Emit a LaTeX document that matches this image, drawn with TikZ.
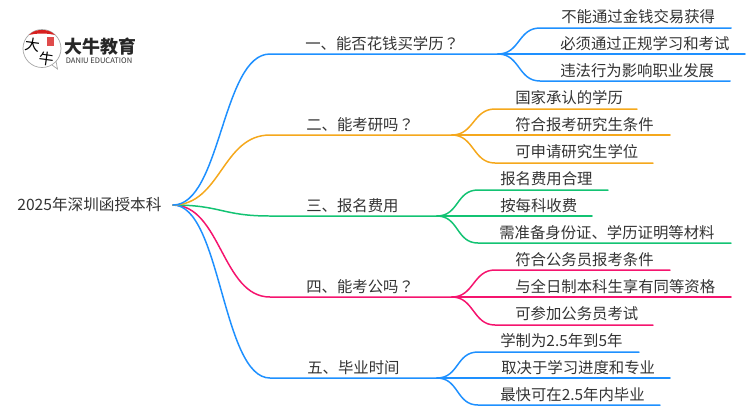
\documentclass[tikz,border=0pt]{standalone}
\usepackage{fontspec}
\setmainfont{Noto Sans CJK SC}
\newfontfamily\cjktc{Noto Sans CJK TC}
\definecolor{mapblue}{HTML}{1E90FF}
\definecolor{maporange}{HTML}{F5A81C}
\definecolor{mapgreen}{HTML}{13C373}
\definecolor{mappink}{HTML}{F5146E}
\definecolor{maptext}{HTML}{333333}
\definecolor{logored}{HTML}{D7201F}
\newcommand{\qmark}{{\cjktc ？}}
\tikzset{
  maptxt/.style={anchor=west, inner sep=0pt, text=maptext, font=\fontsize{8.75}{10}\selectfont},
  mapline/.style={line width=0.85pt, line cap=round},
}
\begin{document}
\begin{tikzpicture}[x=0.02cm, y=-0.02cm]
  \useasboundingbox (0,0) rectangle (750,410);
  % logo
  \draw[black!35, line width=0.4pt, fill=white] (42,48.5) circle (19);
  \draw[black!35, line width=0.4pt] (52,65) -- (57.5,69) -- (56,61);
  \fill[logored] (29,35) .. controls (33,31) and (37,30) .. (42,30) .. controls (47,30) and (51,31) .. (55,35) .. controls (47,33) and (37,33) .. (29,35);
  \fill[logored!80] (47,37) rectangle (54,46);
  \node[inner sep=0pt, rotate=-8, font=\fontsize{8.5}{8.5}\selectfont] (logoda) at (33,45) {大};
  \node[inner sep=0pt, rotate=-8, font=\fontsize{8.5}{8.5}\selectfont] (logoniu) at (47,58.5) {牛};
  \node[maptxt, text=black!85, font=\fontsize{10.2}{11}\selectfont\bfseries] (logoname) at (64,47) {大牛教育};
  \node[maptxt, font=\fontsize{4.3}{5}\selectfont] (logosub) at (65.5,60.5) {DANIU EDUCATION};
  % root and branch points
  \node[maptxt, font=\fontsize{8.9}{10}\selectfont] (root) at (17,205) {2025年深圳函授本科};
  \coordinate (start) at (173,205);
  \coordinate (one) at (270,54);
  \coordinate (oneEnd) at (498,54);
  \coordinate (two) at (270,135);
  \coordinate (twoEnd) at (452,135);
  \coordinate (three) at (270,216);
  \coordinate (threeEnd) at (437,216);
  \coordinate (four) at (270,297);
  \coordinate (fourEnd) at (452,297);
  \coordinate (five) at (270,378);
  \coordinate (fiveEnd) at (437,378);
  % branches
  \draw[mapline, mappink] (start) .. controls +(48,0) and +(-48,0) .. (four) -- (fourEnd);
  \draw[mapline, mapgreen] (start) .. controls +(48,0) and +(-48,0) .. (three) -- (threeEnd);
  \draw[mapline, mapblue] (start) .. controls +(48,0) and +(-48,0) .. (five) -- (fiveEnd);
  \draw[mapline, maporange] (start) .. controls +(48,0) and +(-48,0) .. (two) -- (twoEnd);
  \draw[mapline, mapblue] (start) .. controls +(48,0) and +(-48,0) .. (one) -- (oneEnd);
  \node[maptxt] (oneTxt) at (305,44) {一、能否花钱买学历\qmark};
  \node[maptxt] (twoTxt) at (306,125) {二、能考研吗\qmark};
  \node[maptxt] (threeTxt) at (306,206) {三、报名费用};
  \node[maptxt] (fourTxt) at (306,287) {四、能考公吗\qmark};
  \node[maptxt] (fiveTxt) at (307,368) {五、毕业时间};
  % group one
  \coordinate (oneA) at (540,28);
  \coordinate (oneAe) at (731,28);
  \coordinate (oneBe) at (745,54);
  \coordinate (oneC) at (540,81);
  \coordinate (oneCe) at (730,81);
  \draw[mapline, mapblue] (oneEnd) .. controls +(22,0) and +(-22,0) .. (oneA) -- (oneAe);
  \draw[mapline, mapblue] (oneEnd) -- (oneBe);
  \draw[mapline, mapblue] (oneEnd) .. controls +(22,0) and +(-22,0) .. (oneC) -- (oneCe);
  \node[maptxt] (oneAtxt) at (561,17) {不能通过金钱交易获得};
  \node[maptxt] (oneBtxt) at (560,44) {必须通过正规学习和考试};
  \node[maptxt] (oneCtxt) at (560,71) {违法行为影响职业发展};
  % group two
  \coordinate (twoA) at (495,109);
  \coordinate (twoAe) at (637,109);
  \coordinate (twoBe) at (670,135);
  \coordinate (twoC) at (495,163);
  \coordinate (twoCe) at (653,163);
  \draw[mapline, maporange] (twoEnd) .. controls +(22,0) and +(-22,0) .. (twoA) -- (twoAe);
  \draw[mapline, maporange] (twoEnd) -- (twoBe);
  \draw[mapline, maporange] (twoEnd) .. controls +(22,0) and +(-22,0) .. (twoC) -- (twoCe);
  \node[maptxt] (twoAtxt) at (515,98) {国家承认的学历};
  \node[maptxt] (twoBtxt) at (515,125) {符合报考研究生条件};
  \node[maptxt] (twoCtxt) at (515,152) {可申请研究生学位};
  % group three
  \coordinate (threeA) at (478,190);
  \coordinate (threeAe) at (608,190);
  \coordinate (threeBe) at (592,216);
  \coordinate (threeC) at (478,243);
  \coordinate (threeCe) at (731,243);
  \draw[mapline, mapgreen] (threeEnd) .. controls +(22,0) and +(-22,0) .. (threeA) -- (threeAe);
  \draw[mapline, mapgreen] (threeEnd) -- (threeBe);
  \draw[mapline, mapgreen] (threeEnd) .. controls +(22,0) and +(-22,0) .. (threeC) -- (threeCe);
  \node[maptxt] (threeAtxt) at (500,179) {报名费用合理};
  \node[maptxt] (threeBtxt) at (500,206) {按每科收费};
  \node[maptxt] (threeCtxt) at (499,233) {需准备身份证、学历证明等材料};
  % group four
  \coordinate (fourA) at (495,270);
  \coordinate (fourAe) at (670,270);
  \coordinate (fourBe) at (731,297);
  \coordinate (fourC) at (495,325);
  \coordinate (fourCe) at (653,325);
  \draw[mapline, mappink] (fourEnd) .. controls +(22,0) and +(-22,0) .. (fourA) -- (fourAe);
  \draw[mapline, mappink] (fourEnd) -- (fourBe);
  \draw[mapline, mappink] (fourEnd) .. controls +(22,0) and +(-22,0) .. (fourC) -- (fourCe);
  \node[maptxt] (fourAtxt) at (515,260) {符合公务员报考条件};
  \node[maptxt] (fourBtxt) at (515,287) {与全日制本科生享有同等资格};
  \node[maptxt] (fourCtxt) at (515,314) {可参加公务员考试};
  % group five
  \coordinate (fiveA) at (478,352);
  \coordinate (fiveAe) at (639,352);
  \coordinate (fiveBe) at (670,378);
  \coordinate (fiveC) at (478,405);
  \coordinate (fiveCe) at (660,405);
  \draw[mapline, mapblue] (fiveEnd) .. controls +(22,0) and +(-22,0) .. (fiveA) -- (fiveAe);
  \draw[mapline, mapblue] (fiveEnd) -- (fiveBe);
  \draw[mapline, mapblue] (fiveEnd) .. controls +(22,0) and +(-22,0) .. (fiveC) -- (fiveCe);
  \node[maptxt] (fiveAtxt) at (500,341) {学制为2.5年到5年};
  \node[maptxt] (fiveBtxt) at (501,368) {取决于学习进度和专业};
  \node[maptxt] (fiveCtxt) at (500,395) {最快可在2.5年内毕业};
\end{tikzpicture}
\end{document}
